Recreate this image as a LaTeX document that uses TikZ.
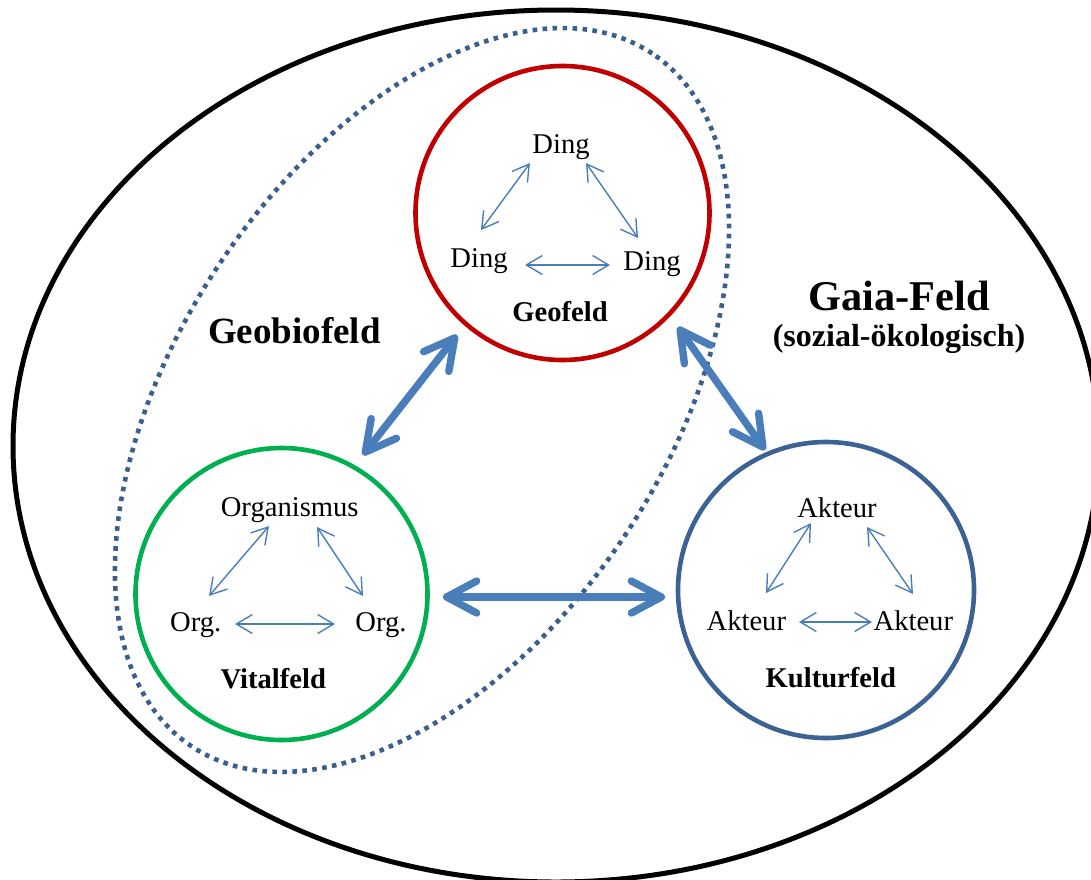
\documentclass[tikz,border=0pt]{standalone}
\usepackage{fontspec}
\setmainfont{Liberation Serif}
\usetikzlibrary{arrows.meta}
\definecolor{geored}{HTML}{C00000}
\definecolor{vitalgreen}{HTML}{00B050}
\definecolor{kulturblue}{HTML}{3C6195}
\definecolor{fieldblue}{HTML}{3A5F8E}
\definecolor{linkblue}{HTML}{4A7EBB}
\begin{document}
\begin{tikzpicture}[x=1pt,y=-1pt,
  field/.style={circle, draw, line width=4.6pt, minimum size=#1, inner sep=0pt},
  word/.style={anchor=base, inner sep=0pt, font=\fontsize{28.6}{30}\selectfont},
  fieldname/.style={anchor=base, inner sep=0pt, font=\fontsize{28.6}{30}\selectfont\bfseries},
  link/.style={draw=linkblue, line width=1.4pt, {Straight Barb[length=16pt,width=19pt]}-{Straight Barb[length=16pt,width=19pt]}},
  bridge/.style={draw=linkblue, line width=7.4pt, {Straight Barb[length=30pt,width=32pt,round]}-{Straight Barb[length=30pt,width=32pt,round]}}]
\clip (0,0) rectangle (1091,879);

% Gaia field
\draw[line width=5pt] (556,446) ellipse [x radius=543pt, y radius=436pt];

% Geobio field (dotted)
\draw[fieldblue, line width=4.6pt, dash pattern=on 4.6pt off 5.4pt,
      rotate around={56.4:(422,400)}] (422,400) ellipse [x radius=416pt, y radius=244pt];

% the three fields
\node[field=294pt, draw=geored] (geo) at (562.5,213) {};
\node[field=292pt, draw=vitalgreen] (vital) at (281.5,594) {};
\node[field=296pt, draw=kulturblue] (kultur) at (826,590) {};

% texts inside the Geofeld
\node[word] (dingT) at (561,153) {Ding};
\node[word] (dingL) at (479,267) {Ding};
\node[word] (dingR) at (652,270) {Ding};
\node[fieldname] (geoname) at (560,321.5) {Geofeld};

% texts inside the Vitalfeld
\node[word] (orgT) at (289.7,516.7) {Organismus};
\node[word] (orgL) at (195.7,631.7) {Org.};
\node[word] (orgR) at (381,631.7) {Org.};
\node[fieldname] (vitalname) at (273.3,688.3) {Vitalfeld};

% texts inside the Kulturfeld
\node[word] (aktT) at (837,517.3) {Akteur};
\node[word] (aktL) at (746.3,630.7) {Akteur};
\node[word] (aktR) at (913.3,630.7) {Akteur};
\node[fieldname] (kulturname) at (830.8,687.3) {Kulturfeld};

% region labels
\node[anchor=base, inner sep=0pt, font=\fontsize{37}{40}\selectfont\bfseries] (geobio) at (294.5,343.3) {Geobiofeld};
\node[anchor=base, inner sep=0pt, font=\fontsize{42.4}{44}\selectfont\bfseries] (gaia) at (899,310) {Gaia-Feld};
\node[anchor=base, inner sep=0pt, font=\fontsize{32}{34}\selectfont\bfseries] (gaiasub) at (899,346) {(sozial-ökologisch)};

% end points of the small relation arrows
\coordinate (gA) at (481,230);  \coordinate (gB) at (530,163);
\coordinate (gC) at (586,163);  \coordinate (gD) at (638,238);
\coordinate (gE) at (525,265);  \coordinate (gF) at (610,265);
\coordinate (vA) at (209,596);  \coordinate (vB) at (269,526);
\coordinate (vC) at (317,527);  \coordinate (vD) at (363,596);
\coordinate (vE) at (235,624);  \coordinate (vF) at (335,624);
\coordinate (kA) at (766,593);  \coordinate (kB) at (811,523);
\coordinate (kC) at (867,527);  \coordinate (kD) at (913,594);
\coordinate (kE) at (799,622);  \coordinate (kF) at (872,622);

\draw[link] (gA) -- (gB);  \draw[link] (gC) -- (gD);  \draw[link] (gE) -- (gF);
\draw[link] (vA) -- (vB);  \draw[link] (vC) -- (vD);  \draw[link] (vE) -- (vF);
\draw[link] (kA) -- (kB);  \draw[link] (kC) -- (kD);  \draw[link] (kE) -- (kF);

% end points of the arrows between the fields
\coordinate (gvGeo) at (457,335);   \coordinate (gvVital) at (363,455);
\coordinate (gkGeo) at (678,327);   \coordinate (gkKultur) at (765,450);
\coordinate (vkVital) at (443,597); \coordinate (vkKultur) at (665,597);

\draw[bridge] (gvVital) -- (gvGeo);
\draw[bridge] (gkGeo) -- (gkKultur);
\draw[bridge] (vkVital) -- (vkKultur);
\end{tikzpicture}
\end{document}
